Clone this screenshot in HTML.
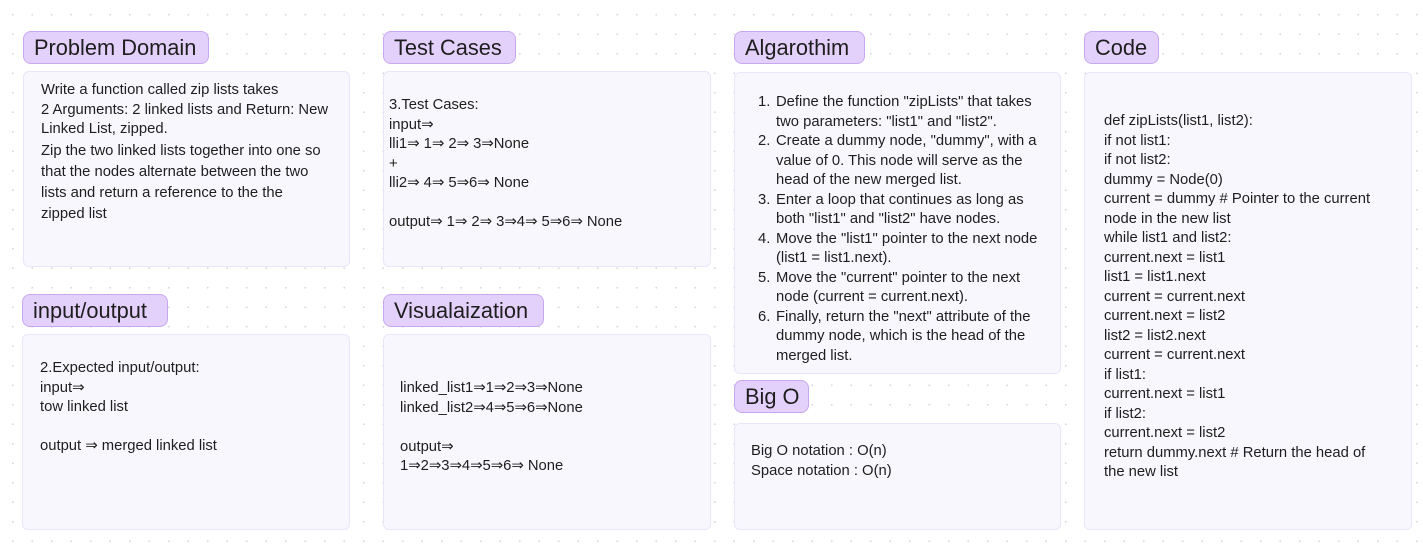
<!DOCTYPE html>
<html><head><meta charset="utf-8"><style>
body{margin:0;width:1423px;height:546px;overflow:hidden;background:#fff;
background-image:radial-gradient(circle,#d6d6de 0.8px,transparent 1.1px);background-size:19.5px 19.5px;background-position:3px 5px;
font-family:"Liberation Sans",sans-serif;color:#1e1e1e;position:relative}
.h{position:absolute;background:#e3d1fb;border:1.5px solid #c7a8ee;border-radius:8px;font-size:21.8px;box-sizing:border-box;padding-left:10px;line-height:31px;white-space:nowrap}
.c{position:absolute;background:#f9f7fe;border:1px solid #ebe4fa;border-radius:6px;box-sizing:border-box}
.t{position:absolute;font-size:14.8px;line-height:19.5px;white-space:nowrap}
</style></head><body>
<div class="h" style="left:23px;top:31px;width:186px;height:33px">Problem Domain</div>
<div class="h" style="left:383px;top:31px;width:133px;height:33px">Test Cases</div>
<div class="h" style="left:734px;top:31px;width:131px;height:33px">Algarothim</div>
<div class="h" style="left:1084px;top:31px;width:75px;height:33px">Code</div>
<div class="h" style="left:22px;top:294px;width:146px;height:33px">input/output</div>
<div class="h" style="left:383px;top:294px;width:161px;height:33px">Visualaization</div>
<div class="h" style="left:734px;top:380px;width:75px;height:33px">Big O</div>

<div class="c" style="left:23px;top:71px;width:327px;height:196px"></div>
<div class="c" style="left:383px;top:71px;width:328px;height:196px"></div>
<div class="c" style="left:734px;top:72px;width:327px;height:302px"></div>
<div class="c" style="left:1084px;top:72px;width:328px;height:458px"></div>
<div class="c" style="left:22px;top:334px;width:328px;height:196px"></div>
<div class="c" style="left:383px;top:334px;width:328px;height:196px"></div>
<div class="c" style="left:734px;top:423px;width:327px;height:107px"></div>

<div class="t" style="left:41px;top:81px">Write a function called zip lists takes<br>2 Arguments: 2 linked lists and Return: New<br>Linked List, zipped.</div>
<div class="t" style="left:41px;top:141px;line-height:21px">Zip the two linked lists together into one so<br>that the nodes alternate between the two<br>lists and return a reference to the the<br>zipped list</div>

<div class="t" style="left:389px;top:96px">3.Test Cases:<br>input⇒<br>lli1⇒ 1⇒ 2⇒ 3⇒None<br>+<br>lli2⇒ 4⇒ 5⇒6⇒ None<br><br>output⇒ 1⇒ 2⇒ 3⇒4⇒ 5⇒6⇒ None</div>

<div class="t" style="left:758px;top:93px">1.<br><br>2.<br><br><br>3.<br><br>4.<br><br>5.<br><br>6.</div>
<div class="t" style="left:776px;top:93px">Define the function "zipLists" that takes<br>two parameters: "list1" and "list2".<br>Create a dummy node, "dummy", with a<br>value of 0. This node will serve as the<br>head of the new merged list.<br>Enter a loop that continues as long as<br>both "list1" and "list2" have nodes.<br>Move the "list1" pointer to the next node<br>(list1 = list1.next).<br>Move the "current" pointer to the next<br>node (current = current.next).<br>Finally, return the "next" attribute of the<br>dummy node, which is the head of the<br>merged list.</div>

<div class="t" style="left:1104px;top:112px">def zipLists(list1, list2):<br>if not list1:<br>if not list2:<br>dummy = Node(0)<br>current = dummy # Pointer to the current<br>node in the new list<br>while list1 and list2:<br>current.next = list1<br>list1 = list1.next<br>current = current.next<br>current.next = list2<br>list2 = list2.next<br>current = current.next<br>if list1:<br>current.next = list1<br>if list2:<br>current.next = list2<br>return dummy.next # Return the head of<br>the new list</div>

<div class="t" style="left:40px;top:359px">2.Expected input/output:<br>input⇒<br>tow linked list<br><br>output ⇒ merged linked list</div>

<div class="t" style="left:400px;top:379px">linked_list1⇒1⇒2⇒3⇒None<br>linked_list2⇒4⇒5⇒6⇒None<br><br>output⇒<br>1⇒2⇒3⇒4⇒5⇒6⇒ None</div>

<div class="t" style="left:751px;top:442px">Big O notation : O(n)<br>Space notation : O(n)</div>
</body></html>
